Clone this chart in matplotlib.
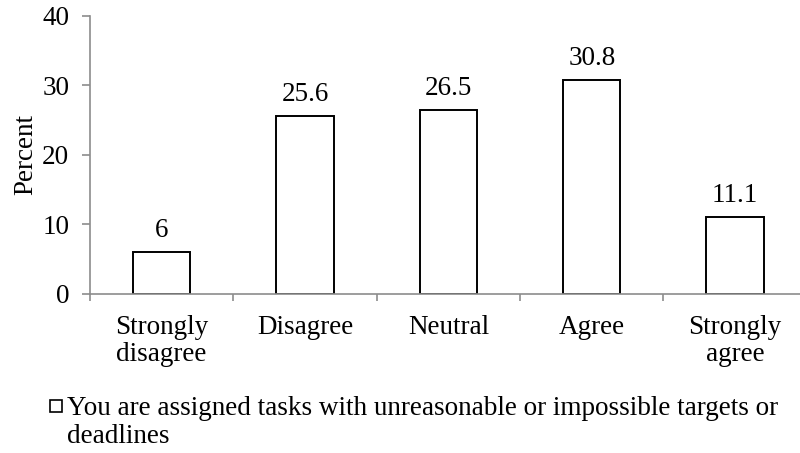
import numpy as np
import matplotlib.pyplot as plt
from matplotlib.lines import Line2D

# datos
categories = ["Strongly\ndisagree", "Disagree", "Neutral", "Agree", "Strongly\nagree"]
percent = [6, 25.6, 26.5, 30.8, 11.1]
value_labels = ["6", "25.6", "26.5", "30.8", "11.1"]
legend_lines = ["You are assigned tasks with unreasonable or impossible targets or", "deadlines"]

plt.rcParams['font.family'] = ['Liberation Serif', 'DejaVu Serif']
axis_color = "#8c8c8c"
fs = 19.5

fig = plt.figure(figsize=(8, 4.53), dpi=100)
ax = fig.add_axes([0.1125, 0.351, 0.896, 0.614])

x = np.arange(len(categories))
ax.bar(x, percent, width=0.4, color="white", edgecolor="black", linewidth=1.4, zorder=2)
for xi, v, lab in zip(x, percent, value_labels):
    ax.text(xi, v + 1.3, lab, ha="center", va="bottom", fontsize=fs)

ax.set_xlim(-0.5, 4.5)
ax.set_ylim(0, 40)
ax.set_yticks(np.arange(0, 41, 10))
ax.set_ylabel("Percent", fontsize=fs, labelpad=3)

# ticks del eje x en los bordes de cada categoria
ax.set_xticks(np.arange(-0.5, 4.6, 1.0))
ax.set_xticklabels([])
ax.set_xticks(x, minor=True)
ax.set_xticklabels(categories, minor=True, fontsize=fs, linespacing=1.1)
ax.tick_params(axis="x", which="minor", length=0, pad=15)
ax.tick_params(axis="x", which="major", length=5, color=axis_color, width=1.2)
ax.tick_params(axis="y", length=6, color=axis_color, width=1.2, labelsize=fs, pad=9)

for s in ["top", "right"]:
    ax.spines[s].set_visible(False)
for s in ["left", "bottom"]:
    ax.spines[s].set_color(axis_color)
    ax.spines[s].set_linewidth(1.2)
    ax.spines[s].set_zorder(3)

# leyenda: primera linea con el cuadro, segunda linea alineada con el texto
handle = Line2D([], [], marker="s", color="none", markerfacecolor="white",
                markeredgecolor="black", markersize=8.6, markeredgewidth=1.2)
leg = fig.legend([handle], [legend_lines[0]], loc="upper left", bbox_to_anchor=(0.063, 0.125),
                 frameon=False, fontsize=fs, handlelength=0.45, handletextpad=0.15,
                 borderaxespad=0, borderpad=0)
fig.canvas.draw()
bb = leg.get_texts()[0].get_window_extent().transformed(fig.transFigure.inverted())
fig.text(bb.x0, bb.y0 - 28 / 453, legend_lines[1], fontsize=fs, ha="left", va="bottom")

plt.savefig("out.png", dpi=100)
